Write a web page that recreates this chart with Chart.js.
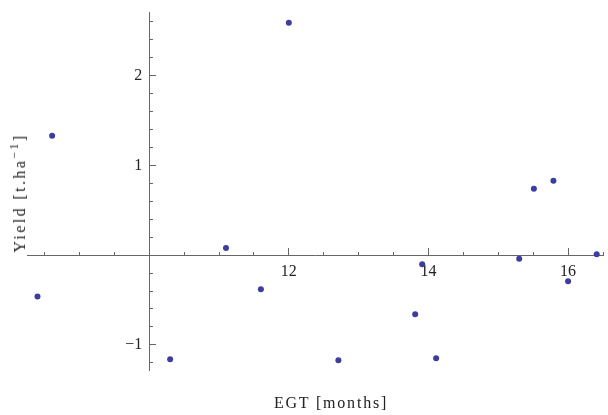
<!DOCTYPE html>
<html>
<head>
<meta charset="utf-8">
<script src="https://cdn.jsdelivr.net/npm/chart.js@4/dist/chart.umd.min.js"></script>
<style>
  html, body { margin: 0; padding: 0; background: #fff; }
  #wrap { position: relative; width: 608px; height: 415px; }
  #c { position: absolute; left: 0; top: 0; }
  .ttl { position: absolute; font-family: "Liberation Serif", serif; font-size: 16px; color: #222; white-space: nowrap; }
  #xt { left: 331px; top: 403px; transform: translate(-50%, -50%); letter-spacing: 1.8px; }
  #yt { left: 20px; top: 193px; transform: translate(-50%, -50%) rotate(-90deg); letter-spacing: 2.4px; }
  #yt sup { font-size: 12px; vertical-align: 7px; line-height: 0; }
</style>
</head>
<body>
<div id="wrap">
  <canvas id="c" width="608" height="415"></canvas>
  <div class="ttl" id="xt">EGT [months]</div>
  <div class="ttl" id="yt">Yield [t.ha<sup>−1</sup>]</div>
</div>
<script>
// Data
const egtMonths = [8.40, 8.61, 10.30, 11.10, 11.60, 12.00, 12.71, 13.81, 13.91, 14.11, 15.30, 15.51, 15.79, 16.00, 16.41];
const yieldValues = [-0.46, 1.33, -1.16, 0.08, -0.38, 2.59, -1.17, -0.66, -0.10, -1.15, -0.04, 0.74, 0.83, -0.29, 0.01];
const xMajorTickLabels = [12, 14, 16];
const yMajorTickLabels = [-1, 1, 2];

const xMin = 8.25, xMax = 16.5, yMin = -1.28, yMax = 2.71;
const axisColor = '#666666';
const fontSpec = { family: '"Liberation Serif", serif', size: 16 };

const points = egtMonths.map((x, i) => ({ x: x, y: yieldValues[i] }));
const fmt = v => v < 0 ? '\u2212' + Math.abs(v) : String(v);
const near = (arr, v) => arr.some(a => Math.abs(a - v) < 1e-6);

new Chart(document.getElementById('c'), {
  type: 'scatter',
  data: {
    datasets: [{
      data: points,
      xAxisID: 'x',
      yAxisID: 'y',
      pointRadius: 3,
      pointHoverRadius: 3,
      pointBorderWidth: 0,
      backgroundColor: '#3d3d9e',
      borderColor: '#3d3d9e'
    }]
  },
  options: {
    responsive: false,
    animation: false,
    events: [],
    layout: { padding: { left: 27, right: 5, top: 12, bottom: 45 } },
    plugins: { legend: { display: false }, tooltip: { enabled: false } },
    scales: {
      x: {
        type: 'linear', min: xMin, max: xMax,
        position: { y: 0 },
        border: { display: true, color: axisColor, width: 1 },
        grid: { drawOnChartArea: false, drawTicks: true, tickLength: -4, tickColor: axisColor, tickWidth: 1 },
        ticks: { display: false, stepSize: 0.5, includeBounds: false }
      },
      xMaj: {
        type: 'linear', min: xMin, max: xMax,
        position: { y: 0 },
        border: { display: false },
        grid: { drawOnChartArea: false, drawTicks: true, tickLength: -7, tickColor: axisColor, tickWidth: 1 },
        ticks: {
          display: true, stepSize: 2, includeBounds: false, padding: 14,
          autoSkip: false, maxRotation: 0, color: '#222', font: fontSpec,
          callback: v => near(xMajorTickLabels, v) ? fmt(v) : ''
        }
      },
      y: {
        type: 'linear', min: yMin, max: yMax,
        position: { x: 10 },
        border: { display: true, color: axisColor, width: 1 },
        grid: { drawOnChartArea: false, drawTicks: true, tickLength: -4, tickColor: axisColor, tickWidth: 1 },
        ticks: { display: false, stepSize: 0.2, includeBounds: false }
      },
      yMaj: {
        type: 'linear', min: yMin, max: yMax,
        position: { x: 10 },
        border: { display: false },
        grid: { drawOnChartArea: false, drawTicks: true, tickLength: -7, tickColor: axisColor, tickWidth: 1 },
        ticks: { display: false, stepSize: 1, includeBounds: false }
      },
      yLab: {
        type: 'linear', min: yMin, max: yMax,
        position: { x: 9.9 },
        border: { display: false },
        grid: { drawOnChartArea: false, drawTicks: false },
        ticks: {
          display: true, stepSize: 1, includeBounds: false, padding: 0,
          autoSkip: false, color: '#222', font: fontSpec,
          callback: v => near(yMajorTickLabels, v) ? fmt(v) : ''
        }
      }
    }
  }
});
</script>
</body>
</html>
